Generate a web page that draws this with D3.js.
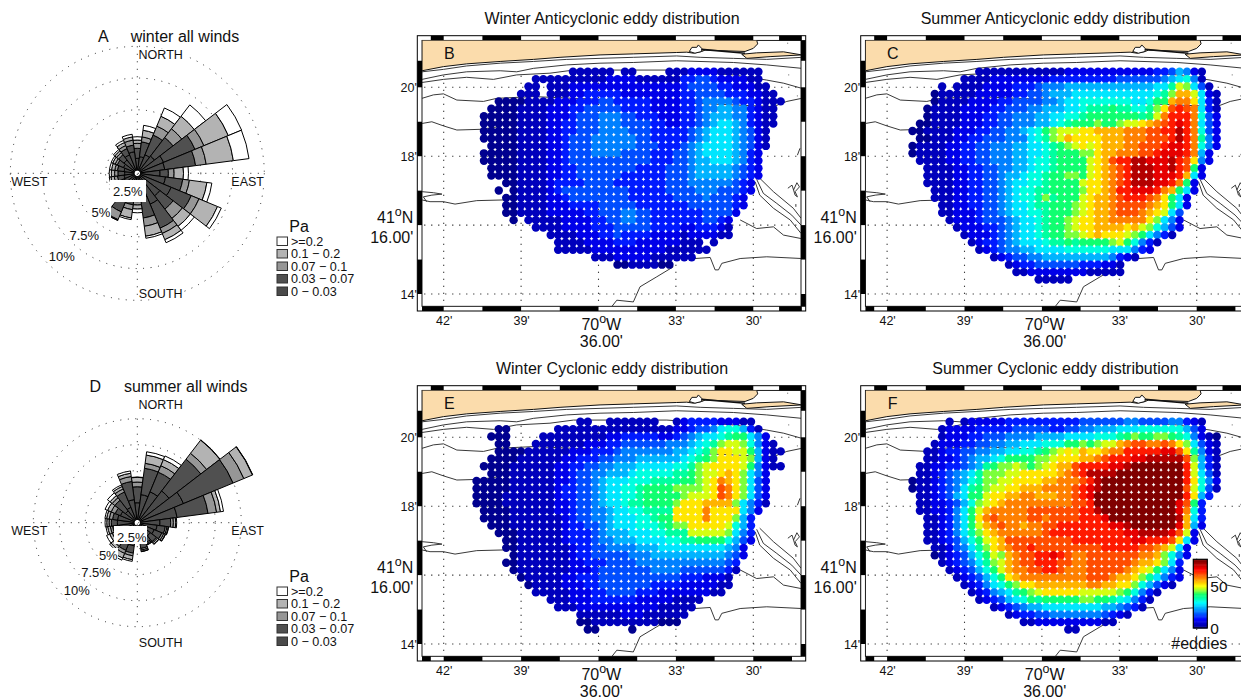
<!DOCTYPE html>
<html>
<head>
<meta charset="utf-8">
<script src="https://cdn.jsdelivr.net/npm/d3@7"></script>
<style>
  html, body { margin: 0; padding: 0; background: #fff; overflow: hidden; }
  text { font-family: "Liberation Sans", Helvetica, Arial, sans-serif; fill: #111; }
  .axis path { display: none; }
  .axis text { font-family: "Liberation Sans", sans-serif; font-size: 12.5px; fill: #111; }
</style>
</head>
<body>
<div id="chart"></div>
<script>
// wind roses: share of time (%) per direction, clockwise from north every 15 deg
var directions = d3.range(0, 360, 15);
var stressBins = [">=0.2", "0.1 \u2212 0.2", "0.07 \u2212 0.1", "0.03 \u2212 0.07", "0 \u2212 0.03"];
var stressColors = ["#ffffff", "#b3b3b3", "#969696", "#505050", "#4a4a4a"];

var winterBin0 = [1.18,1.32,1.58,1.71,2.24,2.18,1.79,2.24,2.89,2.24,2.63,1.97,1.32,1.32,1.58,1.18,1.11,1.05,1,1.05,1.18,1.32,1.58,1.71];
var winterBin1 = [.79,1.18,1.68,1.84,2.68,2.45,.66,1.37,1.71,1.32,2.05,1.58,.92,1.18,1.71,.66,.53,.53,.53,.53,.53,.53,.53,.53];
var winterBin2 = [.39,.39,.76,.87,.76,.84,.45,.53,.66,.92,.45,.66,.26,.39,.66,.32,.26,.26,.26,.21,.18,.21,.26,.39];
var winterBin3 = [.26,.53,.84,1.24,2.08,2.16,.74,1.39,1.58,.79,.53,.79,.32,.66,.05,.26,.26,.26,.26,.26,.21,.18,.26,.26];
var winterBin4 = [.26,.39,.71,1.13,1.13,1.24,.39,.39,.32,.39,.26,.16,.29,.13,.03,.16,.16,.13,.16,.16,.13,.13,.18,.21];

var summerBin0 = [1.92,2.72,3.21,3.85,4.81,3.85,2.18,1.92,1.76,1.6,1.44,1.76,1.12,2.24,2.24,1.92,1.76,1.76,1.92,1.92,1.76,1.44,1.6,2.24];
var summerBin1 = [1.54,2.56,2.05,3.85,5.16,3.01,1.03,.8,.8,.71,.64,.74,.48,.71,.64,.64,.64,.64,.58,.48,.54,1.28,1.6,1.76];
var summerBin2 = [.45,.48,.67,.71,1.12,.83,.26,.16,.19,.13,.13,.16,.13,.26,.32,.32,.22,.22,.22,.32,.42,.32,.32,.48];
var summerBin3 = [.45,.8,.64,1.6,.9,.38,.22,.13,.16,.16,.1,.13,.1,.38,.48,.32,.26,.26,.22,.26,.38,.26,.26,.32];
var summerBin4 = [.03,.32,.38,.03,.03,.29,.1,.03,.03,.03,.03,.03,.03,.16,.22,.16,.32,.16,.16,.16,.26,.32,.16,.22];

// eddy counts per grid cell, one char per cell: digit/letter = count / 4, "." = no data
var winterAnti = [
"..............111111.11....1112222111111",
".........11111111112222111111 33443 2222 11",
"........11.1112222222 22222222 344443 322 211",
".......111.11122 33333 22222222 3344443 332 211",
"....0000111 1222 33344 33333 2222 3345555 433 2111",
"...00001111 2223 344444 3333 2222 3345566 553 211",
"..000001111 2223 444555 4433 3222 3345666 553 211",
"..000001111 2233 444555 4444 3322 3345677 653 211",
"..000001111 2233 444555 5444 3333 3456777 654 21",
"..000001111 2234 445555 5544 3333 3456777 654 21",
"...00001111 2234 445555 5544 4333 4567777 654 21",
"..000001111 2234 445555 4444 3334 4567777 6532",
"..000001111 2234 444444 4444 3334 4566777 6532",
"...00001111 2233 444444 4433 3344 4566666 5432",
"...00001111 2233 444444 3333 3344 4566666 5432",
".....001111 2333 344443 3333 3344 4555555 432",
"....0.01111 2344 444444 4333 3344 4455544 432",
".....001111 2234 444444 4333 3334 4445444 32",
".....001111 2223 333444 4433 3333 3444444 32",
".....001111 2222 233444 5544 3333 3334444 2",
"......0.111 1122 223344 5544 3333 3334432",
".........11 1122 223334 4444 3333 2233321",
"...........1111 222334 3333 2222 1222211",
"............111 122223 3322 2222 111.1",
"............111 112222 2222 2211 1111",
".................11122222111111",
"....................00111100"
];

var summerAnti = [
".........1111111111112222222222 22334 6 5 2 1",
".......111122222 2223333333 334444 445 67851",
"....1.11112 22233 34555 66666 66666 667 7 9 c b 7 4 1",
"...01111122 22233 44566 67777 77777 77 8 9 b e e c 7 2 1",
"...01111222 23344 44556 77888 88887 78aae ffd731",
"..011112222 33444 55666 77899 9a998 89bdg hgf731",
"..011112223 34455 56677 889aa aaaaa 9acfh hhf842",
".0011112223 34455 56678 9aaab aabcc defgh ihf742",
"00111122233 44556 78abc ccdde eeeff fgghh jhf842",
".0011122334 44555 789bc edddd eeeff fgggh jhf952",
"01111223344 55566 7789a bcdcd eeeff ggghi ihf852",
"01111223344 55566 7789a aabbd eefff gghii ihf62",
".1111223344 55566 7889a aaacd eghhj jiiij hgd52",
"..111122334 45566 7889a aaacd efghj jjiij hga2",
"..111122334 45667 889aa bbacd efghj jjiii he72",
"..111122334 45677 889aa aacdd efghj jjiih fa2",
"...11122334 45678 899aa aabdd efhhi iihfe a72",
"...11122334 45678 89b9a aacde efghh hgfda 72",
"....1122334 45677 899aa abcde efggg gfeda 72",
"....1122234 45677 889aa abcde efggg fedc7 4",
".....122234 44567 789aa bcdde effff fdb75 2",
"......12223 34567 789aa bcdde eeede cb864 2",
".......1222 34567 789aa bbcde dddcb a7531",
"........123 34567 77899 a9aaa abca8 531",
".........12 34556 67777 88888 87775 32",
"...........12344 55666 66666 65321",
".............123 34444 44333 221",
"..............112222222211111",
".................11111"
];

var winterCyc = [
"...............11..1111111..12333322211",
"....00......11111111 1 11111112 23445 788631",
"...000....11111111122 33333223 45677 89aa752",
"....00...11111112 2233 44444455 56789 bccb8521",
"....0000111 1112223334 55555556 6789b ddcca6211",
"...00001111 1122333445 55666666 789ab dddcb621",
"..000011111 1223344556 66777778 89bcd dddca5211",
"...00011111 1223445566 67888889 9abcc dedb752",
".0000011111 1223445677 78889999 aabcd fedb742",
".0000011111 1233445677 889aaaab bbbcd gfdb742",
".0000111111 1233445677 889aaaaa bcccd gfdb742",
".0000111111 1223445677 899aaaab dddee eeb7531",
"..000011111 1223445567 7889999d dddfd ddd752",
"..000011111 1123445567 77889aad dddfd ddb63",
"...00011111 1123344567 778889ab bdddd dc863",
"....0001111 1123334566 67778899 9cccc cb753",
".....001111 1123334556 66777788 99aaa a8642",
".....001111 1112334455 55666777 77777 7652",
"......01111 1112334444 45556666 66666 6542",
".....001111 1112233344 44555555 55555 543",
"......01111 1112223444 44445555 44444 431",
".......0111 1122333444 44444444 33322 21",
"........011 1122233444 44443333 22222 11",
".........11 1112223344 44333222 22221 1",
"...........1112223333 33222221 111",
"............111222222 22222111 11",
"...............111111222111111",
"...............00111111111000",
"................00....0"
];

var summerCyc = [
".....1.122222333 3333333444 44455 44445 5321",
"....1222233 33344 44433 44556 66777 88888 8642",
"....1222334 44555 56666 77778 889ab aabba 985210",
"...12223344 55667 77888 aabab ccefg gffgf db7421",
"..112334455 66778 89abc dcedd effhh hhhii gd9521",
"..112234566 78aaa abbcd ddeef ghhhi ijjjj jgb631",
".1122334569 abbcbabcde eghhhhiijk kkkkkkhc631",
".112345679b bbccddddde fghjjjjkkk kkkkkkhc741",
"0112345689b bccddddeef ffghjkkkkk kkkkkkhd852",
"011234579ab ccddeeefff fghijkkkkk kkkkkkgc841",
".1123467aac ddeeffeeef fghikkkkkk kkkkkkhd63",
".11223468bc deffffffff fgghkkkkkk kkkkkiga3",
".1122357ace fffffggggg gghhjkkkkk kkkkkif83",
"..112357adf gffffggfgg gghhhikkkk kkkkkje73",
"..112357ace fgffeffggh hhhhhhiijk kkkkkie62",
"..1123579bd effffffghh hhhhhhhhii jjjjigc2",
"..1123468ac degggggggg ghhhhhhhhi ihhhgd72",
"...1124579b defgghgggg ggggghhhhh ggfec72",
"...0123468a cbefgghhih gffggggggg ffeb852",
"....1234579 bcefgghhhg gffggggggf eedb73",
".....123468 aceffgghhg fffgggggfe dca752",
"......12346 8adeffffff fffgggfeed b97532",
".......1235 78abddeeee eeeffeeddb 86421",
"........123 5679abcddd ddcccccba8 531",
".........12 34678a9aaa aabbaa9875 31",
"...........1234566777 7777766543 1",
".............1233445555 5554321",
"...............1122222222211",
".....................11"
];

var levelChars = "0123456789abcdefghijk";
var eddiesPerLevel = 4;

// colorbar
var eddyMax = 82;
var eddyTicks = [0, 50];

// map axes, minutes of longitude (70 W +) and latitude (41 N +)
var lonGrid = [42, 39, 36, 33, 30];
var latGrid = [20, 18, 16, 14];
var lonLabels = [42, 39, 33, 30];
var latLabels = [20, 18, 14];
var topBlack = [[42.5,42],[40.5,39],[37.5,36],[34.5,33],[31.5,30],[29,28.12]];
var bottomBlackA = [[42.84,42],[40.5,39],[37.5,36],[34.5,33],[31.5,30],[29,28.12]];
var bottomBlackB = [[42.84,42.5],[42,40.5],[39,37.5],[36,34.5],[33,31.5],[30,28.5]];
var leftBlack = [[20.77,20],[19,18],[17,16],[15,14]];
var rightBlack = [[21.37,20.77],[20,19],[18,17],[16,15],[14,13.63]];

// coast and bathymetry, [lon minutes, lat minutes]
var land = [[42.84,21.37],[29.87,21.37],[29.83,21.26],[30,21.13],[30.32,21.04],[31.87,21.08],[32,21.04],[32.32,20.99],[32.58,21.02],[32.97,21.01],[34.65,20.97],[35.94,20.94],[37.49,20.87],[38.52,20.81],[39.81,20.75],[41.11,20.68],[42.01,20.6],[42.84,20.48]];
var pond = [[32.48,21.04],[32.38,21.16],[32.19,21.16],[32.13,21.23],[32,21.13],[32,21.04],[32.26,20.99],[32.48,21.04]];
var spit = [[32,21.1],[30.32,20.99]];
var island = [[30.45,20.96],[29.87,21],[28.83,21.03],[28.12,20.94],[29.35,20.89],[30.25,20.84],[30.45,20.96]];
var isobaths = [
  [[42.84,20.45],[42.01,20.52],[41.11,20.62],[39.81,20.7],[38.52,20.75],[37.23,20.81],[35.94,20.84],[34.65,20.87],[32.97,20.91],[32.06,20.87],[30.77,20.84],[29.48,20.81],[28.12,20.87]],
  [[42.84,20.23],[42.01,20.36],[41.11,20.45],[39.81,20.48],[39.17,20.45],[38.52,20.55],[37.23,20.65],[35.94,20.7],[34.65,20.72],[32.97,20.77],[30.77,20.72],[29.48,20.65],[28.12,20.55]],
  [[42.84,20.14],[42.01,20.23],[41.11,20.29],[40.07,20.23],[39.17,20.36],[37.88,20.41],[36.97,20.5],[33.35,20.5],[30.77,20.36],[29.48,20.21],[28.83,20.12],[28.12,19.97]],
  [[42.84,19.68],[42.4,19.78],[42.01,19.81],[41.49,19.63],[40.46,19.59],[39.94,19.68],[38.52,19.73],[29.22,19.44],[28.7,19.59],[28.12,19.68]],
  [[42.84,18.95],[42.46,19],[42.01,18.88],[41.49,18.76],[40.59,18.78],[39.81,18.86]],
  [[42.84,16.73],[42.53,16.68],[42.01,16.68],[41.56,16.61],[40.72,16.71],[39.68,16.73]],
  [[42.84,16.97],[42.4,16.94],[42.07,16.9],[42.46,16.87],[42.79,16.82],[42.66,16.68]],
  [[29.75,17.36],[29.22,16.97],[28.45,16.49],[28.15,16.2]],
  [[29.87,17.33],[29.61,16.92],[29.09,16.63],[28.51,16.29],[28.15,16]],
  [[29.93,17.26],[29.75,16.87],[29.22,16.49],[28.57,16.15],[28.15,15.76]],
  [[30.51,16.15],[29.87,15.9],[29.22,15.95],[28.83,15.71],[28.15,15.61]],
  [[32.26,15.03],[31.67,15.06],[31.48,14.7],[31.35,14.7],[31.22,14.89],[30.51,15.03],[29.48,15.08],[28.12,15.03]],
  [[33.1,14.79],[33.74,14.5],[34.39,14.21],[34.65,13.77],[35.29,13.82],[35.49,13.63]],
  [[28.66,17.07],[28.5,17.16],[28.44,17.02],[28.31,17.23],[28.21,17.11],[28.38,16.97],[28.29,16.82],[28.38,16.87],[28.44,17.02]],
  [[28.35,16.61],[28.35,16.53]],
  [[28.29,18.03],[28.19,18.23]],
  [[28.68,21.28],[28.65,21.28]],
  [[28.64,20.36],[28.61,20.36]],
  [[28.31,19.75],[28.28,19.75]]
];

var width = 1241, height = 699;
var svg = d3.select("#chart").append("svg").attr("width", width).attr("height", height);

// jet
var jet = d3.scaleLinear()
  .domain([0, 0.125, 0.375, 0.45, 0.5, 0.56, 0.625, 0.875, 1].map(function(d) { return d * 80; }))
  .range(["#00008f", "#0000ff", "#00ffff", "#00ffa0", "#10ff70", "#90ff30", "#ffff00", "#ff0000", "#800000"])
  .clamp(true);

// Wind rose
function drawRose(cx, cy, rOuter, bins, labels) {
  var g = svg.append("g").attr("transform", "translate(" + cx + "," + cy + ")");
  var r = d3.scaleLinear().domain([0, 10]).range([0, rOuter]);

  g.selectAll(".ring").data([2.5, 5, 7.5, 10]).enter().append("circle")
    .attr("r", r).attr("fill", "none").attr("stroke", "#222")
    .attr("stroke-width", 1).attr("stroke-dasharray", "1 6.5");
  g.append("line").attr("x1", -r(10)).attr("x2", r(10))
    .attr("stroke", "#222").attr("stroke-dasharray", "1 6.5");
  g.append("line").attr("y1", -r(10)).attr("y2", r(10))
    .attr("stroke", "#222").attr("stroke-dasharray", "1 6.5");

  var step = 2 * Math.PI / directions.length;
  var arc = d3.arc();
  directions.forEach(function(dir, i) {
    var a = dir * Math.PI / 180, total = 0;
    bins.forEach(function(b, k) {
      var inner = total;
      total += b[i];
      g.append("path")
        .attr("d", arc({
          innerRadius: k === 0 ? 3.2 : r(inner),
          outerRadius: r(total),
          startAngle: a - step / 2,
          endAngle: a + step / 2
        }))
        .attr("fill", stressColors[4 - k])
        .attr("stroke", "#000")
        .attr("stroke-width", 1);
    });
  });

  labels.forEach(function(d) {
    var t = svg.append("text").attr("x", d.x).attr("y", d.y)
      .attr("text-anchor", "middle").attr("dy", "0.36em")
      .attr("font-size", d.size || 12.5).text(d.text);
    if (d.box) {
      svg.insert("rect", function() { return t.node(); })
        .attr("x", d.box[0]).attr("y", d.box[1])
        .attr("width", d.box[2]).attr("height", d.box[3]).attr("fill", "#fff");
    }
  });
}

function compassLabels(cy, yNorth, ySouth) {
  return [
    {text: "NORTH", x: 160.7, y: yNorth, box: [138, yNorth - 6, 46, 12]},
    {text: "SOUTH", x: 160.7, y: ySouth, box: [138, ySouth - 6, 46, 12]},
    {text: "WEST", x: 29.3, y: cy + 8, box: [11, cy + 2, 37, 12]},
    {text: "EAST", x: 247.7, y: cy + 8, box: [231, cy + 2, 34, 12]}
  ];
}

drawRose(137.3, 173.3, 127, [winterBin0, winterBin1, winterBin2, winterBin3, winterBin4],
  compassLabels(173.3, 54.3, 293.3).concat([
    {text: "2.5%", x: 127.7, y: 191.5, size: 13, box: [110, 180, 36, 22]},
    {text: "5%", x: 101, y: 212.7, size: 13, box: [91, 206, 20, 14]},
    {text: "7.5%", x: 84.3, y: 235, size: 13, box: [69, 228, 31, 14]},
    {text: "10%", x: 61.7, y: 256.7, size: 13, box: [48, 250, 27, 14]}
  ]));
drawRose(137.3, 522.7, 104, [summerBin0, summerBin1, summerBin2, summerBin3, summerBin4],
  compassLabels(522.7, 404.3, 642.7).concat([
    {text: "2.5%", x: 131.7, y: 537.7, size: 13, box: [114, 526, 33, 18]},
    {text: "5%", x: 108.3, y: 555, size: 13, box: [98, 548, 20, 14]},
    {text: "7.5%", x: 96, y: 572.3, size: 13, box: [81, 565, 31, 14]},
    {text: "10%", x: 76.7, y: 590.7, size: 13, box: [63, 584, 27, 14]}
  ]));

function roseTitle(letterX, titleX, y, letter, title) {
  svg.append("text").attr("x", letterX).attr("y", y).attr("text-anchor", "middle").attr("font-size", 16).text(letter);
  svg.append("text").attr("x", titleX).attr("y", y).attr("text-anchor", "middle").attr("font-size", 16).text(title);
}
roseTitle(103.3, 185, 42, "A", "winter all winds");
roseTitle(95.3, 185.7, 392, "D", "summer all winds");

// Pa legend
function drawLegend(top) {
  svg.append("text").attr("x", 289.3).attr("y", top - 5).attr("font-size", 16).text("Pa");
  var rows = svg.selectAll(null).data(stressBins).enter().append("g")
    .attr("transform", function(d, i) { return "translate(277," + (top + i * 12.5) + ")"; });
  rows.append("rect").attr("x", 0).attr("y", 0).attr("width", 10.5).attr("height", 8.5)
    .attr("fill", function(d, i) { return stressColors[i]; })
    .attr("stroke", "#333").attr("stroke-width", 1);
  rows.append("text").attr("x", 14).attr("y", 4.4).attr("dy", "0.36em").attr("font-size", 12.6)
    .text(function(d) { return d; });
}
drawLegend(237);
drawLegend(587);

// Eddy maps
var panelW = 388.4, panelH = 275.3, band = 4.7;
var mapX = d3.scaleLinear().domain([42, 30]).range([26.4, 336]);
var mapY = d3.scaleLinear().domain([20, 14]).range([51.6, 258.3]);
var colX = d3.scaleLinear().domain([0, 42]).range([51.8, 363.4]);
var rowY = d3.scaleLinear().domain([0, 28]).range([36, 243.8]);
var mapLine = d3.line().x(function(d) { return mapX(d[0]); }).y(function(d) { return mapY(d[1]); });

function superLabel(g, x, y, size, a, b, anchor) {
  var t = g.append("text").attr("x", x).attr("y", y).attr("text-anchor", anchor).attr("font-size", size);
  t.append("tspan").text(a);
  t.append("tspan").attr("dy", -size * 0.42).attr("font-size", size * 0.78).text("o");
  t.append("tspan").attr("dy", size * 0.42).text(b);
}

function drawMap(left, top, title, letter, rows, bottomBlack, clipId) {
  var g = svg.append("g").attr("transform", "translate(" + left + "," + top + ")");

  g.append("text").attr("x", 194.7).attr("y", -12).attr("text-anchor", "middle")
    .attr("font-size", 16).text(title);

  g.append("clipPath").attr("id", clipId).append("rect")
    .attr("x", band).attr("y", band).attr("width", panelW - 2 * band).attr("height", panelH - 2 * band);

  // frame
  g.append("rect").attr("width", panelW).attr("height", panelH).attr("fill", "#fff").attr("stroke", "#000").attr("stroke-width", 1);
  topBlack.forEach(function(d) {
    g.append("rect").attr("x", mapX(d[0])).attr("y", 0).attr("width", mapX(d[1]) - mapX(d[0])).attr("height", band);
  });
  bottomBlack.forEach(function(d) {
    g.append("rect").attr("x", mapX(d[0])).attr("y", panelH - band).attr("width", mapX(d[1]) - mapX(d[0])).attr("height", band);
  });
  leftBlack.forEach(function(d) {
    g.append("rect").attr("x", 0).attr("y", mapY(d[0])).attr("width", band).attr("height", mapY(d[1]) - mapY(d[0]));
  });
  rightBlack.forEach(function(d) {
    g.append("rect").attr("x", panelW - band).attr("y", mapY(d[0])).attr("width", band).attr("height", mapY(d[1]) - mapY(d[0]));
  });
  g.append("rect").attr("x", band).attr("y", band).attr("width", panelW - 2 * band).attr("height", panelH - 2 * band)
    .attr("fill", "none").attr("stroke", "#000").attr("stroke-width", 0.9);

  var inner = g.append("g").attr("clip-path", "url(#" + clipId + ")");

  // land and depth contours
  inner.append("path").attr("d", mapLine(land) + "Z").attr("fill", "#fbdcac").attr("stroke", "#111").attr("stroke-width", 1);
  inner.append("path").attr("d", mapLine(pond)).attr("fill", "#fff").attr("stroke", "#111").attr("stroke-width", 1);
  inner.append("path").attr("d", mapLine(spit)).attr("fill", "none").attr("stroke", "#111").attr("stroke-width", 1.6);
  inner.append("path").attr("d", mapLine(island)).attr("fill", "#fbdcac").attr("stroke", "#111").attr("stroke-width", 1);
  inner.selectAll(".iso").data(isobaths).enter().append("path")
    .attr("d", mapLine).attr("fill", "none").attr("stroke", "#222").attr("stroke-width", 0.9);

  // dotted graticule
  lonGrid.forEach(function(d) {
    inner.append("line").attr("x1", mapX(d)).attr("x2", mapX(d)).attr("y1", 40).attr("y2", panelH)
      .attr("stroke", "#000").attr("stroke-width", 1.1).attr("stroke-dasharray", "1 6");
  });
  latGrid.forEach(function(d) {
    inner.append("line").attr("y1", mapY(d)).attr("y2", mapY(d)).attr("x1", 0).attr("x2", panelW)
      .attr("stroke", "#000").attr("stroke-width", 1.1).attr("stroke-dasharray", "1 6");
  });

  // eddy cells
  var cells = [];
  rows.forEach(function(row, r) {
    row.replace(/ /g, "").split("").forEach(function(ch, c) {
      if (ch !== ".") cells.push({row: r, col: c, count: levelChars.indexOf(ch) * eddiesPerLevel});
    });
  });
  inner.selectAll(".cell").data(cells).enter().append("circle")
    .attr("cx", function(d) { return colX(d.col); })
    .attr("cy", function(d) { return rowY(d.row); })
    .attr("r", 4.2)
    .attr("fill", function(d) { return jet(d.count); });

  g.append("text").attr("x", 32).attr("y", 23).attr("text-anchor", "middle").attr("font-size", 16).text(letter);

  // axes
  g.append("g").attr("class", "axis").attr("transform", "translate(0," + (panelH + 2) + ")")
    .call(d3.axisBottom(mapX).tickValues(lonLabels).tickSize(0).tickFormat(function(d) { return d + "'"; }));
  g.append("g").attr("class", "axis").attr("transform", "translate(2.5,0)")
    .call(d3.axisLeft(mapY).tickValues(latLabels).tickSize(0).tickFormat(function(d) { return d + "'"; }));

  superLabel(g, 184, panelH + 19, 16, "70", "W", "middle");
  g.append("text").attr("x", 184).attr("y", panelH + 36).attr("text-anchor", "middle").attr("font-size", 16).text("36.00'");
  superLabel(g, -4, 187, 16, "41", "N", "end");
  g.append("text").attr("x", -4).attr("y", 207).attr("text-anchor", "end").attr("font-size", 16).text("16.00'");
  return g;
}

drawMap(417.3, 35.7, "Winter Anticyclonic eddy distribution", "B", winterAnti, bottomBlackA, "clipB");
drawMap(860.7, 35.7, "Summer Anticyclonic eddy distribution", "C", summerAnti, bottomBlackB, "clipC");
drawMap(417.3, 385.7, "Winter Cyclonic eddy distribution", "E", winterCyc, bottomBlackB, "clipE");
var mapF = drawMap(860.7, 385.7, "Summer Cyclonic eddy distribution", "F", summerCyc, bottomBlackB, "clipF");

// colorbar on panel F
var barX = 332.6, barW = 14, barTop = 173.6, barH = 68.7;
var barY = d3.scaleLinear().domain([0, eddyMax]).range([barTop + barH, barTop]);
mapF.selectAll(".bar").data(d3.range(0, eddyMax, 1)).enter().append("rect")
  .attr("x", barX).attr("width", barW)
  .attr("y", function(d) { return barY(d + 1); })
  .attr("height", barY(0) - barY(1) + 0.5)
  .attr("fill", function(d) { return jet(d); });
mapF.append("rect").attr("x", barX).attr("y", barTop).attr("width", barW).attr("height", barH)
  .attr("fill", "none").attr("stroke", "#000").attr("stroke-width", 1.2);
mapF.selectAll(".barTick").data(eddyTicks).enter().append("text")
  .attr("x", barX + barW + 3).attr("y", barY).attr("dy", "0.36em").attr("font-size", 15.5)
  .text(function(d) { return d; });
mapF.append("text").attr("x", barX + barW / 2 - 1).attr("y", 263.8).attr("text-anchor", "middle")
  .attr("font-size", 16).text("#eddies");
</script>
</body>
</html>
